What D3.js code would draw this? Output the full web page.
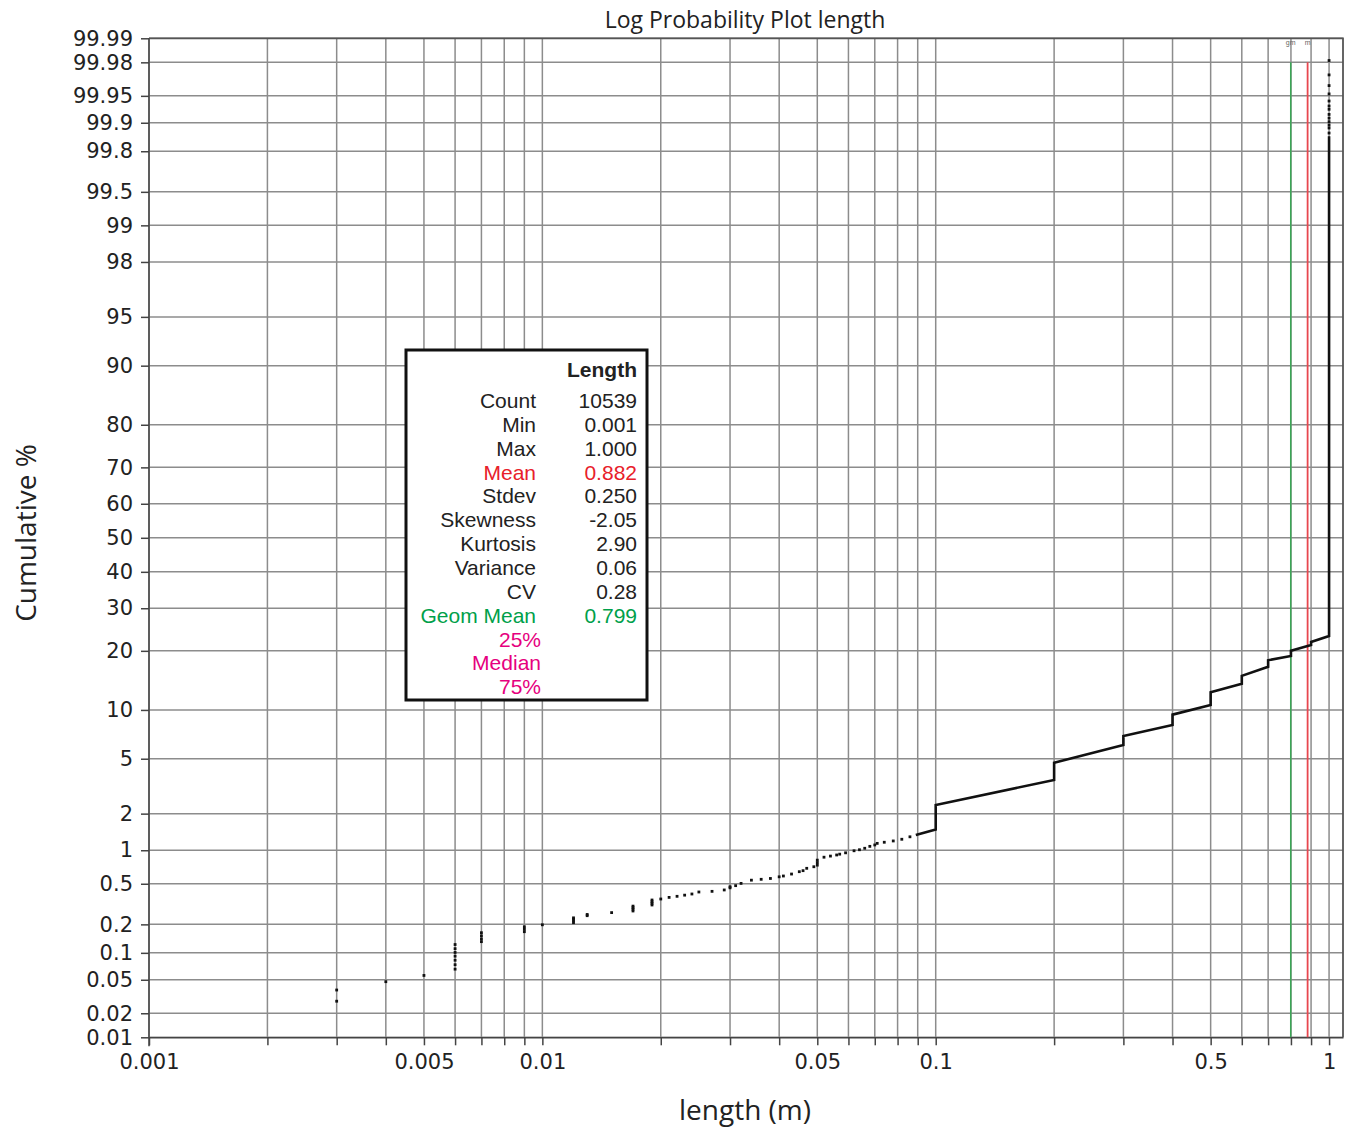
<!DOCTYPE html>
<html>
<head>
  <meta charset="utf-8">
  <title>Log Probability Plot length</title>
  <style>
    body { margin: 0; background: #fff; }
    .grid line { stroke: #8c8c8c; stroke-width: 1.5px; }
    .axis path, .axis line { stroke: #444; stroke-width: 1.5px; }
    .axis text { font-family: "DejaVu Sans", sans-serif; font-size: 21px; fill: #222; }
    .stats text { font-family: "Liberation Sans", Arial, sans-serif; font-size: 21px; }
  </style>
</head>
<body>
<svg width="1350" height="1130"></svg>
<script src="https://cdn.jsdelivr.net/npm/d3@7"></script>
<script>
  // y tick labels (cumulative %), x labelled ticks (length, m)
  var yTicks = [0.01, 0.02, 0.05, 0.1, 0.2, 0.5, 1, 2, 5, 10, 20, 30, 40, 50, 60, 70, 80, 90, 95, 98, 99, 99.5, 99.8, 99.9, 99.95, 99.98, 99.99];
  var xLabels = [0.001, 0.005, 0.01, 0.05, 0.1, 0.5, 1];

  // isolated points at the short end
  var dotLen = [0.003, 0.003, 0.004, 0.005,
    0.006, 0.006, 0.006, 0.006, 0.006, 0.006, 0.006,
    0.007, 0.007, 0.007, 0.007, 0.009, 0.009, 0.009, 0.01,
    0.012, 0.012, 0.012, 0.012, 0.013, 0.013, 0.015,
    0.017, 0.017, 0.017, 0.017, 0.019, 0.019, 0.019, 0.019,
    0.02, 0.021, 0.022, 0.023, 0.024, 0.025, 0.027, 0.029, 0.03, 0.03, 0.031, 0.032,
    0.034, 0.036, 0.038, 0.04, 0.041, 0.043, 0.045, 0.046, 0.047, 0.049, 0.05, 0.05, 0.05,
    0.052, 0.054, 0.056, 0.057, 0.059, 0.062, 0.064, 0.066, 0.068, 0.07, 0.071, 0.074, 0.078, 0.082, 0.086];
  var dotPct = [0.038, 0.028, 0.0475, 0.056,
    0.066, 0.074, 0.083, 0.092, 0.101, 0.111, 0.123,
    0.132, 0.141, 0.152, 0.164, 0.168, 0.178, 0.189, 0.198,
    0.208, 0.217, 0.226, 0.233, 0.245, 0.252, 0.263,
    0.273, 0.284, 0.295, 0.305, 0.313, 0.325, 0.337, 0.35,
    0.358, 0.371, 0.38, 0.39, 0.40, 0.418, 0.424, 0.437, 0.458, 0.469, 0.48, 0.504,
    0.54, 0.55, 0.56, 0.58, 0.59, 0.615, 0.646, 0.66, 0.693, 0.716, 0.74, 0.78, 0.82,
    0.87, 0.89, 0.91, 0.925, 0.95, 0.99, 1.01, 1.04, 1.08, 1.11, 1.145, 1.17, 1.2, 1.24, 1.3];

  // dense part of the distribution (drawn as a line)
  var stepLen = [0.089, 0.1, 0.1, 0.2, 0.2, 0.3, 0.3, 0.4, 0.4, 0.5, 0.5,
    0.6, 0.6, 0.7, 0.7, 0.8, 0.8, 0.9, 0.9, 1.0, 1.0];
  var stepPct = [1.345, 1.49, 2.33, 3.57, 4.70, 6.14, 7.0, 8.17, 9.4, 10.66, 12.5,
    13.85, 15.2, 16.85, 18.1, 18.94, 20.04, 21.24, 21.9, 23.24, 99.86];

  // sparse points at the top of the x = 1 column
  var topPct = [99.981, 99.9716, 99.962, 99.9525, 99.9427, 99.9348, 99.929, 99.919, 99.911, 99.9026, 99.894, 99.886, 99.871];

  var meanVal = 0.882, geomVal = 0.799;

  var statLabels = ["Count", "Min", "Max", "Mean", "Stdev", "Skewness", "Kurtosis", "Variance", "CV", "Geom Mean", "25%", "Median", "75%"];
  var statValues = ["10539", "0.001", "1.000", "0.882", "0.250", "-2.05", "2.90", "0.06", "0.28", "0.799", "", "", ""];
  var statColors = ["#222", "#222", "#222", "#e8202a", "#222", "#222", "#222", "#222", "#222", "#00a04a", "#e6007e", "#e6007e", "#e6007e"];

  // inverse normal cdf (Acklam)
  function qnorm(p) {
    var a = [-3.969683028665376e+01, 2.209460984245205e+02, -2.759285104469687e+02, 1.383577518672690e+02, -3.066479806614716e+01, 2.506628277459239e+00],
        b = [-5.447609879822406e+01, 1.615858368580409e+02, -1.556989798598866e+02, 6.680131188771972e+01, -1.328068155288572e+01],
        c = [-7.784894002430293e-03, -3.223964580411365e-01, -2.400758277161838e+00, -2.549732539343734e+00, 4.374664141464968e+00, 2.938163982698783e+00],
        d = [7.784695709041462e-03, 3.224671290700398e-01, 2.445134137142996e+00, 3.754408661907416e+00],
        pl = 0.02425, q, r;
    if (p < pl) {
      q = Math.sqrt(-2 * Math.log(p));
      return (((((c[0]*q+c[1])*q+c[2])*q+c[3])*q+c[4])*q+c[5]) / ((((d[0]*q+d[1])*q+d[2])*q+d[3])*q+1);
    }
    if (p > 1 - pl) {
      q = Math.sqrt(-2 * Math.log(1 - p));
      return -(((((c[0]*q+c[1])*q+c[2])*q+c[3])*q+c[4])*q+c[5]) / ((((d[0]*q+d[1])*q+d[2])*q+d[3])*q+1);
    }
    q = p - 0.5; r = q * q;
    return (((((a[0]*r+a[1])*r+a[2])*r+a[3])*r+a[4])*r+a[5])*q / (((((b[0]*r+b[1])*r+b[2])*r+b[3])*r+b[4])*r+1);
  }

  var svg = d3.select("svg"),
      pLeft = 149, pRight = 1343, pTop = 38.3, pBottom = 1037.3;

  var x = d3.scaleLog().domain([0.001, 1.085]).range([pLeft, pRight]);
  var yz = d3.scaleLinear().domain([qnorm(0.0001), qnorm(0.9999)]).range([pBottom, pTop]);
  function y(p) { return yz(qnorm(p / 100)); }

  var xMinor = [];
  [-3, -2, -1].forEach(function(k) {
    d3.range(1, 10).forEach(function(m) { xMinor.push(m * Math.pow(10, k)); });
  });
  xMinor.push(1);

  function isLabel(d) {
    return xLabels.some(function(v) { return Math.abs(v - d) / v < 1e-6; });
  }

  // grid
  var grid = svg.append("g").attr("class", "grid");
  grid.selectAll(".vg").data(xMinor).enter().append("line")
      .attr("x1", function(d) { return x(d); }).attr("x2", function(d) { return x(d); })
      .attr("y1", pTop).attr("y2", pBottom);
  grid.selectAll(".hg").data(yTicks).enter().append("line")
      .attr("x1", pLeft).attr("x2", pRight)
      .attr("y1", function(d) { return y(d); }).attr("y2", function(d) { return y(d); });

  // frame top/right
  svg.append("path")
      .attr("d", "M" + pLeft + "," + pTop + "H" + pRight + "V" + pBottom)
      .attr("fill", "none").attr("stroke", "#555").attr("stroke-width", 1.8);

  // axes
  svg.append("g")
      .attr("class", "axis axis--x")
      .attr("transform", "translate(0," + pBottom + ")")
      .call(d3.axisBottom(x).tickValues(xMinor).tickSize(8).tickPadding(9).tickSizeOuter(0)
        .tickFormat(function(d) { return isLabel(d) ? String(+d.toPrecision(3)) : ""; }));

  svg.append("g")
      .attr("class", "axis axis--y")
      .attr("transform", "translate(" + pLeft + ",0)")
      .call(d3.axisLeft(yz).tickValues(yTicks.map(function(p) { return qnorm(p / 100); }))
        .tickSize(8).tickPadding(8).tickSizeOuter(0)
        .tickFormat(function(d, i) { return yTicks[i]; }))
    .select(".domain").attr("d", "M0," + pTop + "V" + (pBottom + 9));

  // mean / geometric mean
  svg.append("line")
      .attr("x1", x(geomVal)).attr("x2", x(geomVal)).attr("y1", y(99.98)).attr("y2", pBottom)
      .attr("stroke", "#3aa655").attr("stroke-width", 1.5);
  svg.append("line")
      .attr("x1", x(meanVal)).attr("x2", x(meanVal)).attr("y1", y(99.98)).attr("y2", pBottom)
      .attr("stroke", "#e8474f").attr("stroke-width", 1.8);
  svg.append("text").attr("x", x(geomVal)).attr("y", 45).attr("text-anchor", "middle")
      .style("font", "7px sans-serif").attr("fill", "#666").text("gm");
  svg.append("text").attr("x", x(meanVal)).attr("y", 45).attr("text-anchor", "middle")
      .style("font", "7px sans-serif").attr("fill", "#666").text("m");

  // data
  svg.append("g").selectAll("rect").data(dotLen).enter().append("rect")
      .attr("x", function(d) { return x(d) - 1.4; })
      .attr("y", function(d, i) { return y(dotPct[i]) - 1.4; })
      .attr("width", 2.8).attr("height", 2.8)
      .attr("fill", "#111");

  var line = d3.line()
      .x(function(d) { return x(d); })
      .y(function(d, i) { return y(stepPct[i]); });
  svg.append("path")
      .attr("d", line(stepLen))
      .attr("fill", "none").attr("stroke", "#111").attr("stroke-width", 2.6);

  svg.append("g").selectAll("rect").data(topPct).enter().append("rect")
      .attr("x", x(1) - 1.4)
      .attr("y", function(d) { return y(d) - 1.4; })
      .attr("width", 2.8).attr("height", 2.8)
      .attr("fill", "#111");

  // titles
  svg.append("text").attr("x", 745).attr("y", 28).attr("text-anchor", "middle")
      .style("font-family", "'Open Sans', sans-serif").style("font-size", "23px").attr("fill", "#222")
      .text("Log Probability Plot length");
  svg.append("text").attr("x", 745).attr("y", 1120).attr("text-anchor", "middle")
      .style("font-family", "'Open Sans', sans-serif").style("font-size", "28px").attr("fill", "#222")
      .text("length (m)");
  svg.append("text").attr("transform", "translate(36,533) rotate(-90)").attr("text-anchor", "middle")
      .style("font-family", "'Open Sans', sans-serif").style("font-size", "28px").attr("fill", "#222")
      .text("Cumulative %");

  // stats box
  var box = svg.append("g").attr("class", "stats");
  box.append("rect").attr("x", 406).attr("y", 350).attr("width", 241).attr("height", 350)
      .attr("fill", "#fff").attr("stroke", "#111").attr("stroke-width", 3);
  box.append("text").attr("x", 637).attr("y", 377).attr("text-anchor", "end")
      .style("font-weight", "bold").attr("fill", "#222").text("Length");
  var rows = box.selectAll(".row").data(statLabels).enter().append("g");
  rows.append("text")
      .attr("x", function(d, i) { return i >= 10 ? 541 : 536; })
      .attr("y", function(d, i) { return 408 + i * 23.85; })
      .attr("text-anchor", "end")
      .attr("fill", function(d, i) { return statColors[i]; })
      .text(function(d) { return d; });
  rows.append("text")
      .attr("x", 637)
      .attr("y", function(d, i) { return 408 + i * 23.85; })
      .attr("text-anchor", "end")
      .attr("fill", function(d, i) { return statColors[i]; })
      .text(function(d, i) { return statValues[i]; });
</script>
</body>
</html>
